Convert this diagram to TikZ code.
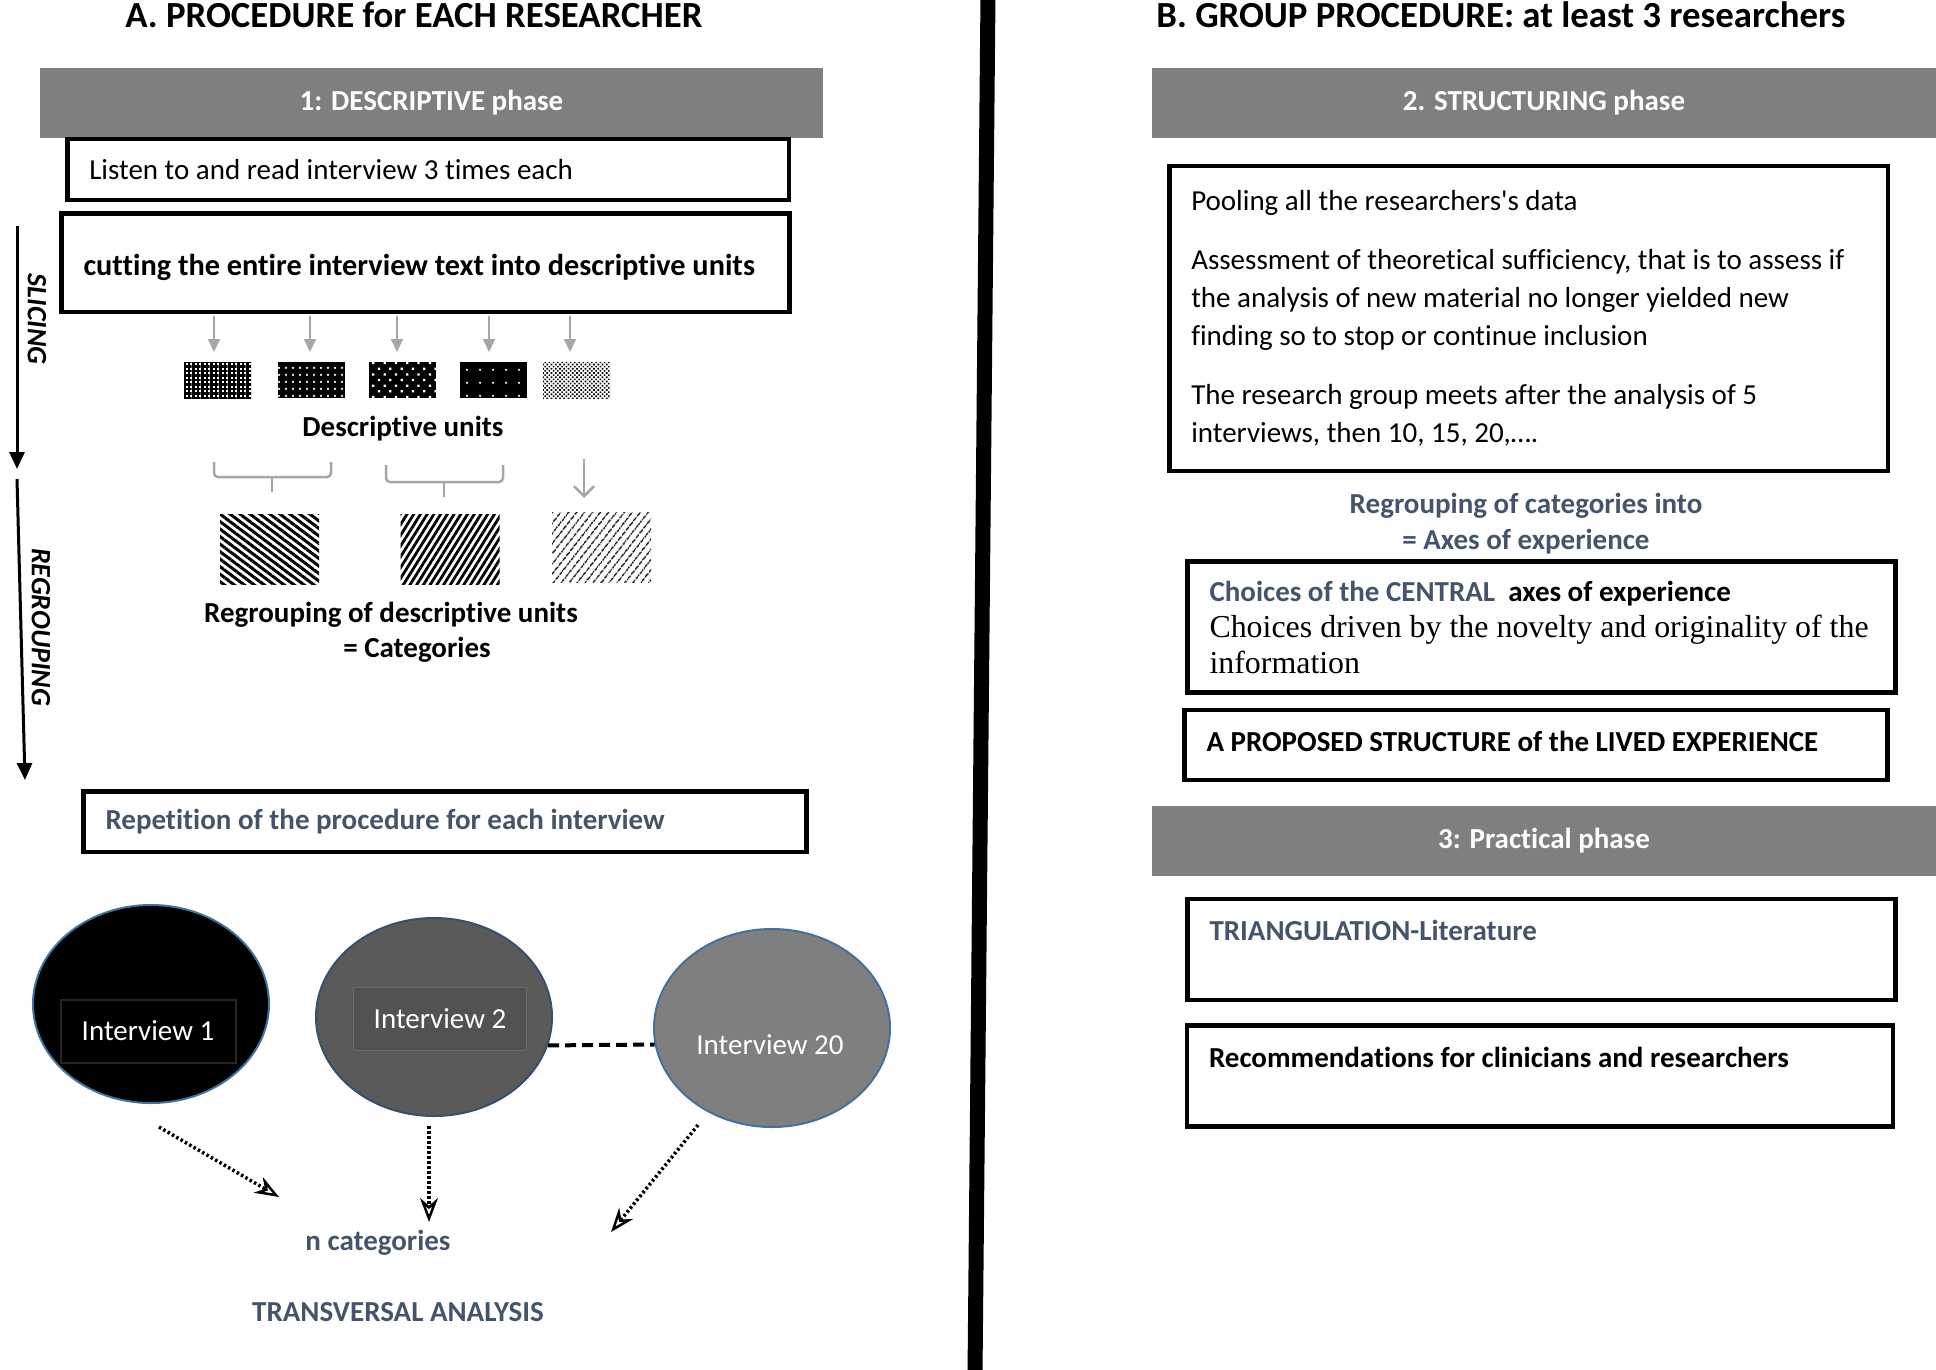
\documentclass[tikz,border=0pt]{standalone}
\usepackage{fontspec}
\setmainfont{Carlito}[Ligatures=NoCommon]
\newfontfamily\timesfont{Liberation Serif}
\usetikzlibrary{shapes.geometric, arrows.meta, patterns, patterns.meta, positioning}

\definecolor{bargray}{HTML}{7F7F7F}
\definecolor{slate}{HTML}{44546A}
\definecolor{arrowgray}{HTML}{A6A6A6}
\definecolor{rimblue}{HTML}{41719C}
\definecolor{rimnavy}{HTML}{34506F}
\definecolor{midgray}{HTML}{5A5A5A}

\tikzstyle{heading} = [font=\fontsize{36.8}{44}\selectfont\bfseries, inner sep=0pt]
\tikzstyle{phasebar} = [
    rectangle,
    fill=bargray,
    text=white,
    minimum height=70pt,
    inner sep=0pt,
    font=\fontsize{29}{35}\selectfont\bfseries
]
\tikzstyle{textbox} = [
    rectangle,
    draw=black,
    line width=4.5pt,
    align=left,
    inner xsep=22pt,
    inner ysep=0pt,
    font=\fontsize{29}{38}\selectfont,
    execute at begin node={\spaceskip=0pt\xspaceskip=0pt\relax}
]
\tikzstyle{boldtext} = [inner sep=0pt, font=\fontsize{29}{36}\selectfont\bfseries]
\tikzstyle{slatetext} = [boldtext, text=slate]
\tikzstyle{sidelabel} = [inner sep=0pt, rotate=-90, font=\fontsize{28}{34}\selectfont\bfseries\itshape]
\tikzstyle{unit} = [rectangle, minimum width=67pt, minimum height=36pt, inner sep=0pt]
\tikzstyle{category} = [rectangle, minimum width=99pt, minimum height=70pt, inner sep=0pt]
\tikzstyle{interview} = [ellipse, minimum width=236pt, minimum height=198pt, line width=2pt]
\tikzstyle{ivbox} = [
    rectangle,
    minimum height=63pt,
    text=white,
    line width=2pt,
    font=\fontsize{29}{35}\selectfont
]
\tikzstyle{grayarrow} = [draw=arrowgray, line width=2pt, -{Triangle[length=13pt, width=12pt]}]
\tikzstyle{barbarrow} = [draw=arrowgray, line width=2.5pt, -{Straight Barb[length=10pt, width=20pt]}]
\tikzstyle{bracket} = [draw=arrowgray, line width=2.5pt, rounded corners=4pt]
\tikzstyle{phasearrow} = [line width=3pt, -{Triangle[length=17pt, width=15pt]}]
\tikzstyle{dotarrow} = [
    line width=3.5pt,
    dash pattern=on 2.5pt off 2.5pt,
    -{Stealth[open, length=24pt, width=18pt, line width=2.5pt]}
]

\begin{document}
\begin{tikzpicture}[x=1pt, y=-1pt]
\useasboundingbox (0,0) rectangle (1936,1370);

% A. procedure for each researcher
\node (titleA) [heading, anchor=base] at (414,28) {A. PROCEDURE for EACH RESEARCHER};
\node (bar1) [phasebar, minimum width=783pt] at (431.5,103) {1: DESCRIPTIVE phase};
\node (listen) [textbox, text width=677.5pt, minimum height=60.5pt] at (428,169.5)
{Listen to and read interview 3 times each};
\node (cut) [textbox, text width=684pt, minimum height=98.5pt, text height=31pt,
    font=\fontsize{30.3}{36}\selectfont\bfseries] at (425.5,262.5)
{cutting the entire interview text into descriptive units};

\node (u1) [unit, fill=white, pattern={Hatch[angle=0, distance=4.5pt, line width=2.4pt]}] at (217.5,380) {};
\node (u2) [unit, preaction={fill=black}, pattern={Dots[distance=6.5pt, radius=1.3pt]}, pattern color=white] at (311,380) {};
\node (u3) [unit, preaction={fill=black}, pattern={Dots[distance=8pt, radius=1.6pt, angle=45]}, pattern color=white] at (402.5,380) {};
\node (u4) [unit, preaction={fill=black}, pattern={Dots[distance=13pt, radius=1.3pt]}, pattern color=white] at (493.5,380) {};
\node (u5) [unit, pattern={Dots[distance=3pt, radius=1.15pt, angle=45]}] at (576.5,380) {};
\node (unitstxt) [boldtext] at (403,429) {Descriptive units};

\draw [grayarrow] (214,316) -- (214,352);
\draw [grayarrow] (310,316) -- (310,352);
\draw [grayarrow] (397,316) -- (397,352);
\draw [grayarrow] (489,316) -- (489,352);
\draw [grayarrow] (570,316) -- (570,352);

\draw [bracket] (214,462) -- (214,477) -- (331,477) -- (331,462);
\draw [bracket] (272,477) -- (272,492);
\draw [bracket] (386,465) -- (386,482) -- (503,482) -- (503,465);
\draw [bracket] (444,482) -- (444,497);
\coordinate (barbtop) at (584,459);
\coordinate (barbtip) at (584,498);
\draw [barbarrow] (barbtop) -- (barbtip);

\node (c1) [category, pattern={Lines[angle=-37, distance=6pt, line width=3pt]}] at (269.5,549.5) {};
\node (c2) [category, pattern={Lines[angle=58, distance=5.7pt, line width=2.8pt]}] at (450,549) {};
\node (c3) [category, pattern={Lines[angle=52, distance=6.5pt, line width=1.6pt]}] at (601.5,547) {};
\node (regtxt) [boldtext] at (391,615) {Regrouping of descriptive units};
\node (cattxt) [boldtext] at (417,650) {= Categories};

% side arrows
\coordinate (slicetop) at (17,226);
\coordinate (slicetip) at (17,469);
\coordinate (regtop) at (17,479);
\coordinate (regtip) at (25,780);
\draw [phasearrow] (slicetop) -- (slicetip);
\draw [phasearrow] (regtop) -- (regtip);
\node (slicing) [sidelabel] at (37,319) {SLICING};
\node (regrouping) [sidelabel] at (41,627) {REGROUPING};

\node (repeat) [textbox, text width=679pt, minimum height=60.5pt,
    text=slate, font=\fontsize{29}{36}\selectfont\bfseries] at (445,821.5)
{Repetition of the procedure for each interview};

% interviews
\node (int1) [interview, fill=black, draw=rimblue] at (151,1004) {};
\node (int1lbl) [ivbox, minimum width=175pt, fill=black, draw=black!85!white] at (148,1031) {Interview 1};
\node (int2) [interview, fill=midgray, draw=rimnavy] at (434,1017) {};
\node (int2lbl) [ivbox, minimum width=173pt, fill=black!68!white, draw=black!58!white, line width=1pt] at (440,1019) {Interview 2};
\node (int20) [interview, fill=bargray, draw=rimblue] at (772,1028) {};
\node (int20lbl) [ivbox, inner sep=0pt, minimum height=0pt] at (770,1045) {Interview 20};
\draw [line width=4pt, dash pattern=on 11pt off 6pt] (int2.-14) -- (int20.188);

\coordinate (a1s) at (159,1127);
\coordinate (a1e) at (279,1197);
\coordinate (a2s) at (429,1126);
\coordinate (a2e) at (429,1222);
\coordinate (a3s) at (698,1125);
\coordinate (a3e) at (611,1232);
\draw [dotarrow] (a1s) -- (a1e);
\draw [dotarrow] (a2s) -- (a2e);
\draw [dotarrow] (a3s) -- (a3e);

\node (ncat) [slatetext] at (378,1243) {n categories};
\node (transv) [slatetext] at (398,1312) {TRANSVERSAL ANALYSIS};

% divider
\draw [line width=15pt] (988,-5) -- (975,1375);

% B. group procedure
\node (titleB) [heading, anchor=base] at (1501,28) {B. GROUP PROCEDURE: at least 3 researchers};
\node (bar2) [phasebar, minimum width=784pt] at (1544,103) {2. STRUCTURING phase};
\node (pool) [textbox, text width=674.5pt, minimum height=304.5pt] at (1528.5,318.5)
{Pooling all the researchers\textquotesingle s data\\[21pt]
Assessment of theoretical sufficiency, that is to assess if\\
the analysis of new material no longer yielded new\\
finding so to stop or continue inclusion\\[21pt]
The research group meets after the analysis of 5\\
interviews, then 10, 15, 20,….};
\node (axestxt) [slatetext, align=center] at (1526,524)
{Regrouping of categories into\\= Axes of experience};
\node (choices) [textbox, text width=664pt, minimum height=131pt,
    font=\fontsize{29}{36}\selectfont] at (1541.5,627)
{\textbf{\color{slate}Choices of the CENTRAL}\textbf{\ \ axes of experience}\\
{\timesfont\fontsize{31.9}{36}\selectfont Choices driven by the novelty and originality of the\\
information}};
\node (proposed) [textbox, text width=659pt, minimum height=70pt, text depth=8pt,
    font=\fontsize{29}{36}\selectfont\bfseries] at (1536,745)
{A PROPOSED STRUCTURE of the LIVED EXPERIENCE};
\node (bar3) [phasebar, minimum width=784pt] at (1544,841) {3: Practical phase};
\node (triang) [textbox, text width=664pt, minimum height=101pt,
    text=slate, font=\fontsize{29}{38}\selectfont\bfseries] at (1541.5,949.5)
{TRIANGULATION-Literature\\\mbox{}};
\node (recomm) [textbox, text width=662pt, minimum height=101pt,
    font=\fontsize{29}{38}\selectfont\bfseries] at (1540,1076)
{Recommendations for clinicians and researchers\\\mbox{}};

\end{tikzpicture}
\end{document}
